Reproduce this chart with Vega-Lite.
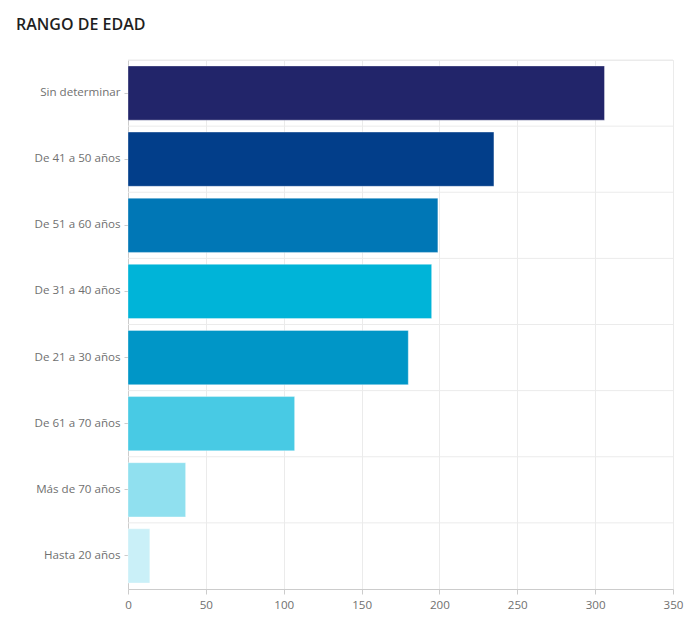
{
  "$schema": "https://vega.github.io/schema/vega-lite/v6.json",
  "autosize": "none",
  "width": 545,
  "height": 529,
  "padding": {"left": 128, "top": 60, "right": 14, "bottom": 31},
  "background": "#ffffff",
  "title": {
    "text": "RANGO DE EDAD",
    "anchor": "start",
    "frame": "group",
    "dx": -112,
    "offset": 27,
    "font": "Open Sans",
    "fontSize": 16,
    "fontWeight": 600,
    "color": "#1f1f1f"
  },
  "config": {
    "view": {"stroke": "#ebebeb"},
    "axis": {"labelFont": "Open Sans", "labelFontSize": 11.6, "labelColor": "#707070"}
  },
  "data": {
    "values": [
      {"rango": "Sin determinar", "total": 306},
      {"rango": "De 41 a 50 años", "total": 235},
      {"rango": "De 51 a 60 años", "total": 199},
      {"rango": "De 31 a 40 años", "total": 195},
      {"rango": "De 21 a 30 años", "total": 180},
      {"rango": "De 61 a 70 años", "total": 107},
      {"rango": "Más de 70 años", "total": 37},
      {"rango": "Hasta 20 años", "total": 14}
    ]
  },
  "layer": [
    {
      "mark": {"type": "rule", "color": "#ebebeb", "strokeWidth": 1},
      "encoding": {
        "y": {"field": "rango", "type": "nominal", "sort": null, "bandPosition": 0,
              "scale": {"paddingInner": 0, "paddingOuter": 0}}
      }
    },
    {
      "mark": {"type": "bar", "height": {"band": 0.82}, "stroke": "#ffffff", "strokeOpacity": 0.35, "strokeWidth": 1},
      "encoding": {
        "y": {
          "field": "rango", "type": "nominal", "sort": null, "title": null,
          "scale": {"paddingInner": 0, "paddingOuter": 0},
          "axis": {"grid": false, "ticks": true, "tickSize": 4, "tickColor": "#cccccc", "domain": true, "domainColor": "#cccccc", "labelPadding": 4}
        },
        "x": {
          "field": "total", "type": "quantitative", "title": null,
          "scale": {"domain": [0, 350], "nice": false},
          "axis": {"values": [0, 50, 100, 150, 200, 250, 300, 350], "grid": true, "gridColor": "#ebebeb", "domainColor": "#cccccc", "tickColor": "#cccccc", "tickSize": 5, "labelPadding": 5, "labelFlush": false}
        },
        "color": {
          "field": "rango", "type": "nominal", "legend": null,
          "scale": {
            "domain": ["Sin determinar", "De 41 a 50 años", "De 51 a 60 años", "De 31 a 40 años", "De 21 a 30 años", "De 61 a 70 años", "Más de 70 años", "Hasta 20 años"],
            "range": ["#22256a", "#023e8a", "#0077b6", "#00b4d8", "#0096c7", "#48cae4", "#90e0ef", "#caf0f8"]
          }
        }
      }
    }
  ]
}
